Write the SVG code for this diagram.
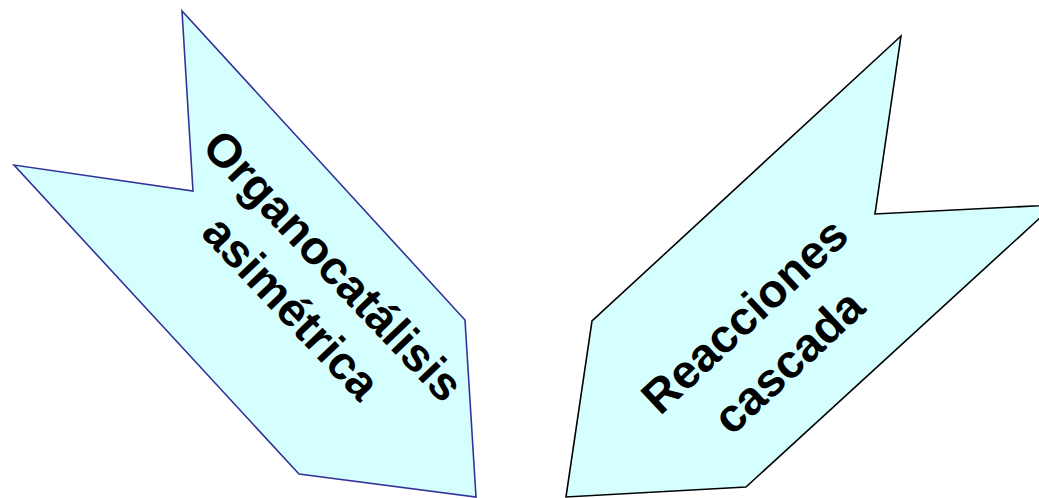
<svg xmlns="http://www.w3.org/2000/svg" width="1039" height="498" viewBox="0 0 1039 498">
<style>
.arrow{fill:#D5FFFF;stroke-width:1.6;stroke-linejoin:miter}
.lbl{font-family:"Liberation Sans",Arial,sans-serif;font-weight:bold;font-size:47px;fill:#000;text-anchor:middle}
</style>
<rect width="1039" height="498" fill="#fff"/>
<g id="organocatalisis">
<polygon class="arrow" stroke="#333399" points="182,11 193,191 14,165 299,474 476,497 465,320"/>
<g transform="translate(334,265) rotate(46.5)">
<text class="lbl" x="0" y="17">Organocatálisis</text>
</g>
<g transform="translate(292,307) rotate(46.5)">
<text class="lbl" x="0" y="17">asimétrica</text>
</g>
</g>
<g id="reacciones">
<polygon class="arrow" stroke="#000" points="901,36 875,214 1054,205 746,487 566,497 592,321"/>
<g transform="translate(744,315) rotate(-43)">
<text class="lbl" x="0" y="17">Reacciones</text>
</g>
<g transform="translate(788,361) rotate(-43)">
<text class="lbl" x="0" y="17">cascada</text>
</g>
</g>
<g id="connectors"/>
</svg>
